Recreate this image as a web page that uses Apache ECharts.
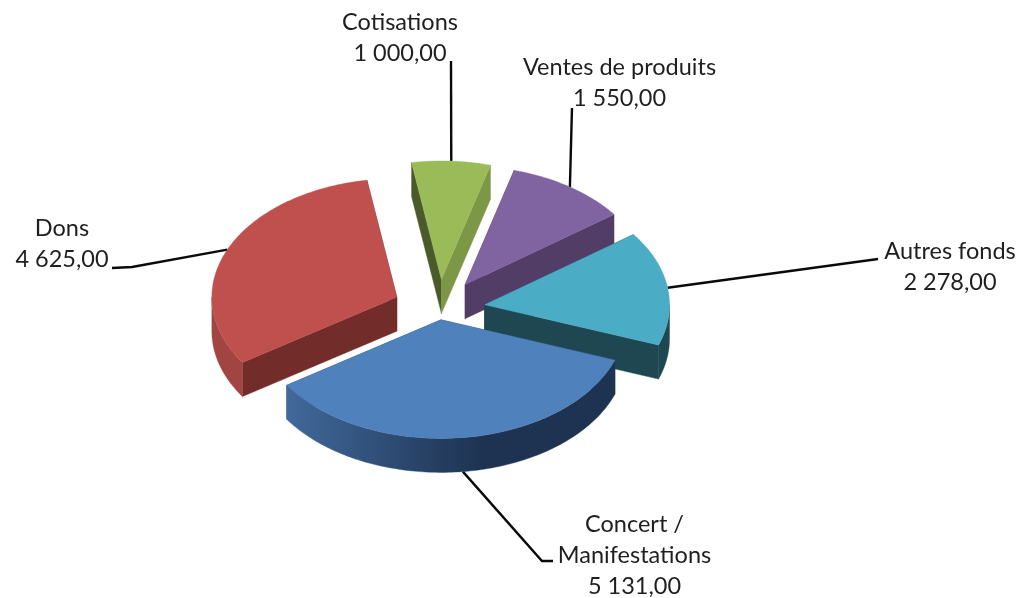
<!DOCTYPE html>
<html>
<head>
<meta charset="utf-8">
<style>
    html, body { margin: 0; padding: 0; background: #fff; }
    #chart { width: 1022px; height: 598px; }
</style>
<script src="https://cdn.jsdelivr.net/npm/echarts@6/dist/echarts.min.js"></script>
</head>
<body>
<div id="chart"></div>
<script>
const categories = ['Cotisations', 'Ventes de produits', 'Autres fonds', 'Concert /\nManifestations', 'Dons'];
const values = [1000, 1550, 2278, 5131, 4625];

// couleurs : dessus, paroi de debut, paroi de fin, bord exterieur
const topColors = ['#9BBB59', '#8064A2', '#4BACC6', '#4F81BD', '#C0504D'];
const startWallColors = ['#4A5A2B', '#523D66', '#1F4751', '#2B4A70', '#722C2A'];
const endWallColors = ['#7C9746', '#523D66', '#1F4751', '#2B4A70', '#722C2A'];

// mise en page
const pie = { cx: 439, cy: 309, rx: 185, ry: 118.6, depth: 34, start: -9.3 };
const explode = [46, 46, 46, 17, 46];
const labelPos = [[400, 38], [619.5, 83], [950, 267], [634.5, 555], [62, 244]];
const leaderEnds = [
    [[451, 61]],
    [[572, 108]],
    [[878, 259]],
    [[542, 561], [553, 561]],
    [[132, 267], [112, 268]]
];

const total = values.reduce(function (a, b) { return a + b }, 0);

function formatValue(v) {
    const s = String(v).replace(/\B(?=(\d{3})+$)/g, ' ');
    return s + ',00';
}

function rad(deg) {
    return deg * Math.PI / 180;
}

// angle 0 = haut, sens horaire
function onRim(ox, oy, deg) {
    return [ox + pie.rx * Math.sin(rad(deg)), oy - pie.ry * Math.cos(rad(deg))];
}

function rimPoints(ox, oy, from, to, dy) {
    const pts = [];
    const n = Math.max(1, Math.ceil(Math.abs(to - from)));
    for (let i = 0; i <= n; i++) {
        const p = onRim(ox, oy, from + (to - from) * i / n);
        pts.push([p[0], p[1] + dy]);
    }
    return pts;
}

function outerFill(i) {
    if (i === 3) {
        return new echarts.graphic.LinearGradient(0, 0, 1, 0, [
            { offset: 0, color: '#41699B' },
            { offset: 0.45, color: '#263F62' },
            { offset: 0.6, color: '#1D3351' },
            { offset: 1, color: '#1D3351' }
        ]);
    }
    if (i === 4) return '#A24542';
    return '#1F4751';
}

function renderSlice(params, api) {
    const i = params.dataIndex;
    const before = values.slice(0, i).reduce(function (a, b) { return a + b }, 0);
    const from = pie.start + before / total * 360;
    const to = from + api.value(0) / total * 360;
    const mid = (from + to) / 2;
    const e = explode[i];
    const ox = pie.cx + e * Math.sin(rad(mid));
    const oy = pie.cy - e * (pie.ry / pie.rx) * Math.cos(rad(mid));
    const d = pie.depth;
    const base = Math.round(100 * (1 - Math.cos(rad(mid)))) * 10;
    const children = [];

    function addPoly(points, fill, z) {
        children.push({
            type: 'polygon',
            shape: { points: points },
            style: { fill: fill, stroke: fill, lineWidth: 0.4 },
            z2: base + z,
            silent: true
        });
    }

    // parois radiales
    const a = onRim(ox, oy, from);
    const b = onRim(ox, oy, to);
    addPoly([[ox, oy], a, [a[0], a[1] + d], [ox, oy + d]], startWallColors[i], 0);
    addPoly([[ox, oy], b, [b[0], b[1] + d], [ox, oy + d]], endWallColors[i], 1);

    // bord exterieur, seulement la partie devant
    const f1 = Math.max(from, 90);
    const f2 = Math.min(to, 270);
    if (f2 > f1) {
        addPoly(rimPoints(ox, oy, f1, f2, 0).concat(rimPoints(ox, oy, f2, f1, d)), outerFill(i), 2);
    }

    // dessus
    addPoly([[ox, oy]].concat(rimPoints(ox, oy, from, to, 0)), topColors[i], 3);

    // trait de rappel
    const anchor = onRim(ox, oy, mid);
    if (mid > 90 && mid < 270) anchor[1] += d;
    children.push({
        type: 'polyline',
        shape: { points: [anchor].concat(leaderEnds[i]) },
        style: { stroke: '#0a0a0a', lineWidth: 2.4, fill: 'none' },
        z2: 1,
        silent: true
    });

    // etiquette
    children.push({
        type: 'text',
        x: labelPos[i][0],
        y: labelPos[i][1],
        style: {
            text: categories[i] + '\n' + formatValue(api.value(0)),
            fill: '#1f1f1f',
            font: '23.5px Lato',
            lineHeight: 31,
            align: 'center',
            verticalAlign: 'middle'
        },
        z2: 5000
    });

    return { type: 'group', children: children };
}

const chart = echarts.init(document.getElementById('chart'), null, { renderer: 'canvas' });
chart.setOption({
    backgroundColor: '#ffffff',
    animation: false,
    series: [{
        type: 'custom',
        coordinateSystem: 'none',
        renderItem: renderSlice,
        data: values.map(function (v) { return [v] })
    }]
});
</script>
</body>
</html>
